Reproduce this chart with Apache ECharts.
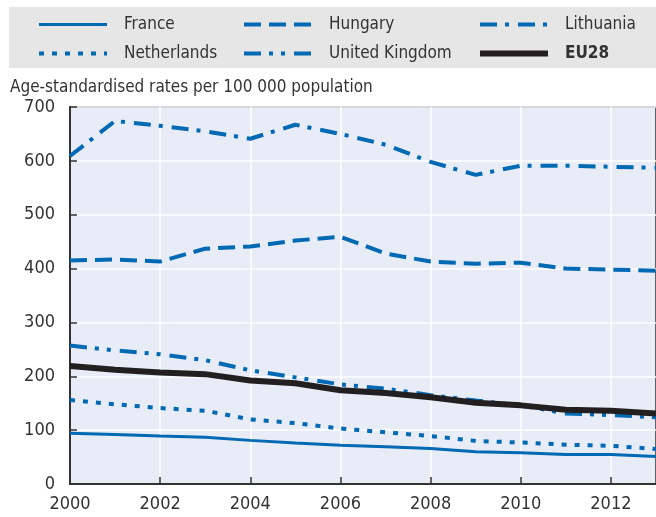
<!DOCTYPE html>
<html>
<head>
<meta charset="utf-8">
<script src="https://cdn.jsdelivr.net/npm/echarts@6/dist/echarts.min.js"></script>
<style>
  html, body { margin: 0; padding: 0; background: #fff; }
  #chart { width: 656px; height: 517px; }
</style>
</head>
<body>
<div id="chart"></div>
<script>
// Age-standardised rates per 100 000 population, 2000-2013
const years = ['2000','2001','2002','2003','2004','2005','2006','2007','2008','2009','2010','2011','2012','2013'];
const france      = [94, 92, 89, 87, 81, 76, 72, 69, 66, 60, 58, 55, 55, 51];
const netherlands = [156, 148, 141, 136, 120, 113, 103, 96, 89, 80, 77, 73, 71, 65];
const hungary     = [415, 417, 413, 437, 441, 452, 459, 428, 413, 409, 411, 400, 398, 396];
const unitedKingdom = [257, 248, 241, 230, 211, 198, 185, 177, 165, 155, 146, 131, 128, 124];
const lithuania   = [609, 674, 665, 655, 641, 667, 650, 630, 598, 574, 591, 591, 589, 587];
const eu28        = [219, 212, 207, 204, 192, 187, 174, 169, 161, 151, 146, 138, 136, 131];
const yTicks = [0, 100, 200, 300, 400, 500, 600, 700];

const BLUE = '#0069B4';
const DARK = '#231F20';
const FONT = '"Liberation Sans Narrow", "Arial Narrow", "DejaVu Sans Condensed", sans-serif';

const chart = echarts.init(document.getElementById('chart'), null, { renderer: 'canvas' });

function line(name, data, type, width, color) {
  return {
    name, type: 'line', data,
    symbol: 'none',
    lineStyle: { color, width, type, cap: 'butt' },
    itemStyle: { color },
    emphasis: { disabled: true },
    z: name === 'EU28' ? 5 : 3
  };
}

const legendBase = {
  orient: 'vertical',
  padding: 0,
  itemWidth: 68,
  itemHeight: 14,
  itemGap: 12,
  selectedMode: false,
  itemStyle: { opacity: 0 },
  lineStyle: { width: 'inherit', type: 'inherit' },
  textStyle: { fontFamily: FONT, fontSize: 17, color: '#333', padding: [0, 0, 0, 12] }
};

chart.setOption({
  animation: false,
  textStyle: { fontFamily: FONT },
  title: {
    text: 'Age-standardised rates per 100 000 population',
    left: 10, top: 79, padding: 0,
    textStyle: { fontFamily: FONT, fontSize: 17, fontWeight: 'normal', color: '#333' }
  },
  graphic: [{
    type: 'rect', left: 9, top: 7, z: -1,
    shape: { width: 660, height: 61 },
    style: { fill: '#E6E6E7' }
  }],
  legend: [
    Object.assign({}, legendBase, { left: 37, top: 16, data: ['France', 'Netherlands'] }),
    Object.assign({}, legendBase, { left: 242, top: 16, data: ['Hungary', 'United Kingdom'] }),
    Object.assign({}, legendBase, { left: 477, top: 16, data: [
      'Lithuania',
      { name: 'EU28', textStyle: { fontWeight: 'bold' } }
    ] })
  ],
  grid: {
    left: 70, top: 107, width: 588, height: 377,
    show: true, backgroundColor: '#E8ECF6', borderColor: '#333', borderWidth: 1.5
  },
  xAxis: {
    type: 'category', data: years, boundaryGap: false,
    axisLine: { lineStyle: { color: '#333', width: 2 } },
    axisTick: { inside: true, length: 7, interval: 1, lineStyle: { color: '#333', width: 1.5 } },
    axisLabel: { interval: 1, fontSize: 18, color: '#333', margin: 11, fontFamily: FONT },
    splitLine: { show: true, interval: 1, lineStyle: { color: '#fff', width: 1.5 } }
  },
  yAxis: {
    type: 'value', min: yTicks[0], max: yTicks[yTicks.length - 1], interval: 100,
    axisLine: { show: true, lineStyle: { color: '#333', width: 2 } },
    axisTick: { show: true, inside: true, length: 7, lineStyle: { color: '#333', width: 1.5 } },
    axisLabel: { fontSize: 18, color: '#333', margin: 15, fontFamily: FONT },
    splitLine: { show: true, lineStyle: { color: '#fff', width: 1.5 } }
  },
  series: [
    line('France', france, 'solid', 3, BLUE),
    line('Hungary', hungary, [17, 8], 4, BLUE),
    line('Lithuania', lithuania, [17, 8, 4, 9], 4, BLUE),
    line('Netherlands', netherlands, [5, 8], 4, BLUE),
    line('United Kingdom', unitedKingdom, [17, 8, 4, 8, 4, 9], 4, BLUE),
    line('EU28', eu28, 'solid', 6, DARK)
  ]
});
</script>
</body>
</html>
